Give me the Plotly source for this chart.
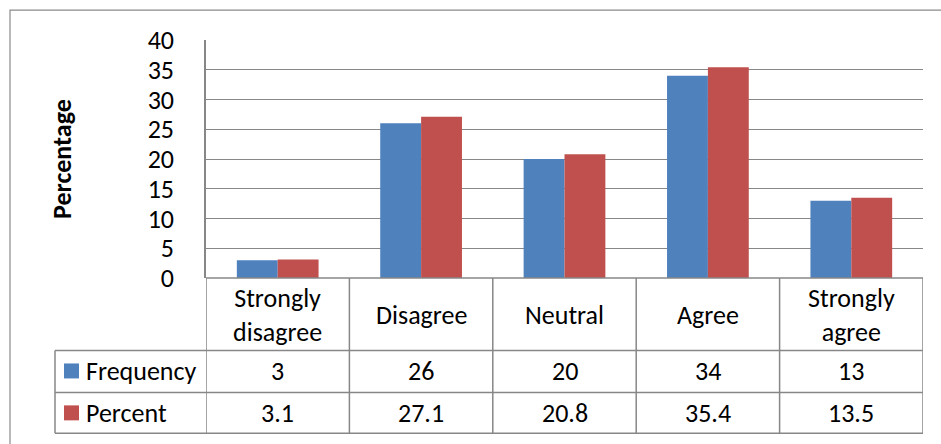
import plotly.graph_objects as go

categories = ["Strongly disagree", "Disagree", "Neutral", "Agree", "Strongly agree"]
category_labels = ["Strongly<br>disagree", "Disagree", "Neutral", "Agree", "Strongly<br>agree"]
frequency = [3, 26, 20, 34, 13]
percent = [3.1, 27.1, 20.8, 35.4, 13.5]
freq_labels = ["3", "26", "20", "34", "13"]
pct_labels = ["3.1", "27.1", "20.8", "35.4", "13.5"]
y_ticks = [0, 5, 10, 15, 20, 25, 30, 35, 40]

W, H = 941, 444
L, R, T, B = 206, 923, 40, 278.4
FONT = "Carlito, Calibri, Lato, sans-serif"
FS = 26
BLUE = "#4F81BD"
RED = "#C0504D"
GRID = "#878787"


def px(x):
    return (x - L) / (R - L)


def py(y):
    return (B - y) / (B - T)


fig = go.Figure()
fig.add_trace(go.Bar(x=categories, y=frequency, name="Frequency",
                     marker=dict(color=BLUE, line=dict(width=0))))
fig.add_trace(go.Bar(x=categories, y=percent, name="Percent",
                     marker=dict(color=RED, line=dict(width=0))))

shapes = []
ann = []
line = dict(color=GRID, width=1.5)

# outer chart frame
shapes.append(dict(type="rect", xref="paper", yref="paper",
                   x0=px(10), x1=px(960), y0=py(10), y1=py(470),
                   line=dict(color="#8a8a8a", width=1.2), layer="below"))

# table horizontal lines
shapes.append(dict(type="line", xref="paper", yref="paper", x0=0, x1=1, y0=0, y1=0, line=line))
for yy in [351, 393, 434]:
    shapes.append(dict(type="line", xref="paper", yref="paper",
                       x0=px(55), x1=1, y0=py(yy), y1=py(yy), line=line))
# table vertical lines at category boundaries
for i in range(len(categories) + 1):
    shapes.append(dict(type="line", xref="x", yref="paper",
                       x0=i - 0.5, x1=i - 0.5, y0=0, y1=py(434), line=line))
shapes.append(dict(type="line", xref="paper", yref="paper",
                   x0=px(55), x1=px(55), y0=py(351), y1=py(434), line=line))

# legend keys in table
for yc, col in [(371.5, BLUE), (413.5, RED)]:
    shapes.append(dict(type="rect", xref="paper", yref="paper",
                       x0=px(64), x1=px(79), y0=py(yc + 7.5), y1=py(yc - 7.5),
                       fillcolor=col, line=dict(width=0)))
for yc, name in [(372, "Frequency"), (413.5, "Percent")]:
    ann.append(dict(xref="paper", yref="paper", x=px(84), y=py(yc), text=name,
                    showarrow=False, xanchor="left", yanchor="middle",
                    font=dict(family=FONT, size=FS, color="black")))

# category row and value rows
for c, lab, f, p in zip(categories, category_labels, freq_labels, pct_labels):
    ann.append(dict(xref="x", yref="paper", x=c, y=py(315), text=lab, showarrow=False,
                    xanchor="center", yanchor="middle",
                    font=dict(family=FONT, size=FS, color="black")))
    ann.append(dict(xref="x", yref="paper", x=c, y=py(372), text=f, showarrow=False,
                    xanchor="center", yanchor="middle",
                    font=dict(family=FONT, size=FS, color="black")))
    ann.append(dict(xref="x", yref="paper", x=c, y=py(413.5), text=p, showarrow=False,
                    xanchor="center", yanchor="middle",
                    font=dict(family=FONT, size=FS, color="black")))

# y axis title
ann.append(dict(xref="paper", yref="paper", x=px(62), y=0.5, text="<b>Percentage</b>",
                showarrow=False, textangle=-90, xanchor="center", yanchor="middle",
                font=dict(family=FONT, size=FS, color="black")))

fig.update_layout(
    width=W, height=H,
    margin=dict(l=L, r=W - R, t=T, b=H - B, pad=0),
    paper_bgcolor="white", plot_bgcolor="white",
    barmode="group", bargap=0.43, bargroupgap=0,
    showlegend=False,
    font=dict(family=FONT, size=FS, color="black"),
    xaxis=dict(showticklabels=False, showgrid=False, zeroline=False, showline=False,
               ticks="", range=[-0.5, 4.5]),
    yaxis=dict(range=[0, 40], tickvals=y_ticks, showgrid=True, gridcolor=GRID, gridwidth=1.3,
               zeroline=False, showline=True, linecolor=GRID, linewidth=1.5,
               ticks="", ticklabelstandoff=25,
               tickfont=dict(family=FONT, size=FS, color="black")),
    shapes=shapes, annotations=ann,
)

fig.write_html("out.html", config={"displayModeBar": False},
               post_script="document.body.style.margin='0';")
